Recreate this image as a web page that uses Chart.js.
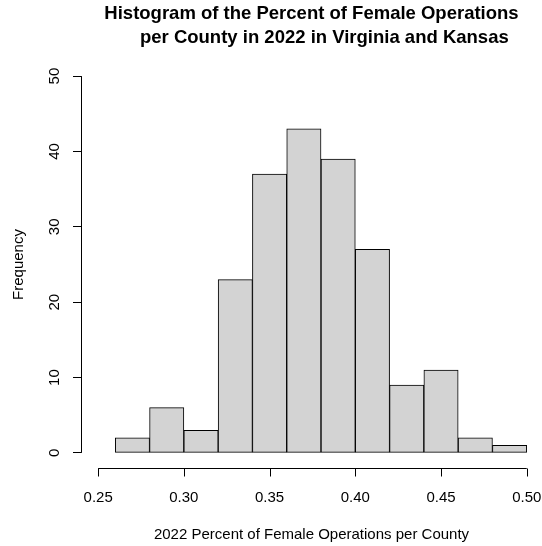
<!DOCTYPE html>
<html>
<head>
<meta charset="utf-8">
<script src="https://cdn.jsdelivr.net/npm/chart.js@4/dist/chart.umd.min.js"></script>
<style>
  html, body { margin: 0; padding: 0; background: #ffffff; overflow: hidden; }
  canvas { display: block; }
</style>
</head>
<body>
<canvas id="c" width="542" height="546"></canvas>
<script>
// ---- data ----
const titleLines = ['Histogram of the Percent of Female Operations', '     per County in 2022 in Virginia and Kansas'];
const xTitle = '2022 Percent of Female Operations per County';
const yTitle = 'Frequency';
const breaks = [0.26, 0.28, 0.30, 0.32, 0.34, 0.36, 0.38, 0.40, 0.42, 0.44, 0.46, 0.48, 0.50];
const counts = [2, 6, 3, 23, 37, 43, 39, 27, 9, 11, 2, 1];
const xTicks = [0.25, 0.30, 0.35, 0.40, 0.45, 0.50];
const xTickLabels = ['0.25', '0.30', '0.35', '0.40', '0.45', '0.50'];
const yTicks = [0, 10, 20, 30, 40, 50];
const yTickLabels = ['0', '10', '20', '30', '40', '50'];

const barData = counts.map((c, i) => ({ x: (breaks[i] + breaks[i + 1]) / 2, y: c }));

const FONT = 'Liberation Sans, Arial, Helvetica, sans-serif';
const TICK_LEN = 8;

const axisLines = {
  id: 'axisLines',
  afterDraw(chart) {
    const { ctx, chartArea, scales } = chart;
    const x = scales.x, y = scales.y;
    ctx.save();
    ctx.strokeStyle = '#000';
    ctx.lineWidth = 1;
    ctx.beginPath();
    const lx = Math.round(chartArea.left) + 0.5;
    ctx.moveTo(lx, y.getPixelForValue(yTicks[0]));
    ctx.lineTo(lx, y.getPixelForValue(yTicks[yTicks.length - 1]));
    const by = Math.round(chartArea.bottom) + 0.5;
    ctx.moveTo(x.getPixelForValue(xTicks[0]), by);
    ctx.lineTo(x.getPixelForValue(xTicks[xTicks.length - 1]), by);
    xTicks.forEach(v => {
      const px = Math.round(x.getPixelForValue(v)) + 0.5;
      ctx.moveTo(px, by);
      ctx.lineTo(px, by + TICK_LEN);
    });
    ctx.stroke();
    ctx.restore();
  }
};

new Chart(document.getElementById('c'), {
  type: 'bar',
  data: {
    datasets: [{
      data: barData,
      backgroundColor: '#d3d3d3',
      borderColor: '#000000',
      borderWidth: 1,
      borderSkipped: false,
      barPercentage: 1,
      categoryPercentage: 1
    }]
  },
  plugins: [axisLines],
  options: {
    responsive: false,
    animation: false,
    devicePixelRatio: 1,
    events: [],
    layout: { padding: 0 },
    plugins: {
      legend: { display: false },
      tooltip: { enabled: false },
      title: {
        display: true,
        text: titleLines,
        fullSize: false,
        color: '#000',
        font: { family: FONT, size: 18.5, weight: 'bold', lineHeight: 24 / 18.5 },
        padding: { top: 2, bottom: 11 }
      }
    },
    scales: {
      x: {
        type: 'linear',
        min: 0.24,
        max: 0.5089,
        offset: false,
        afterBuildTicks(scale) { scale.ticks = xTicks.map(v => ({ value: v })); },
        afterFit(scale) { scale.height = 78; },
        border: { display: false },
        grid: { offset: false, drawOnChartArea: false, drawTicks: true, tickLength: 21, tickColor: 'rgba(0,0,0,0)', lineWidth: 0 },
        ticks: {
          color: '#000',
          padding: 0,
          maxRotation: 0,
          autoSkip: false,
          font: { family: FONT, size: 15 },
          callback: (v, i) => xTickLabels[i]
        },
        title: {
          display: true,
          text: xTitle,
          color: '#000',
          font: { family: FONT, size: 15 },
          padding: { top: 0, bottom: 2 }
        }
      },
      y: {
        type: 'linear',
        min: -2,
        max: 52,
        afterBuildTicks(scale) { scale.ticks = yTicks.map(v => ({ value: v })); },
        afterFit(scale) { scale.width = 81; },
        border: { display: false },
        grid: { drawOnChartArea: false, drawTicks: true, tickLength: TICK_LEN, color: '#000', lineWidth: 1 },
        ticks: {
          color: '#000',
          padding: 10,
          minRotation: 90,
          maxRotation: 90,
          crossAlign: 'center',
          autoSkip: false,
          font: { family: FONT, size: 15 },
          callback: (v, i) => yTickLabels[i]
        },
        title: {
          display: true,
          text: yTitle,
          color: '#000',
          font: { family: FONT, size: 15 },
          padding: { top: 10, bottom: 0 }
        }
      }
    }
  }
});
</script>
</body>
</html>
